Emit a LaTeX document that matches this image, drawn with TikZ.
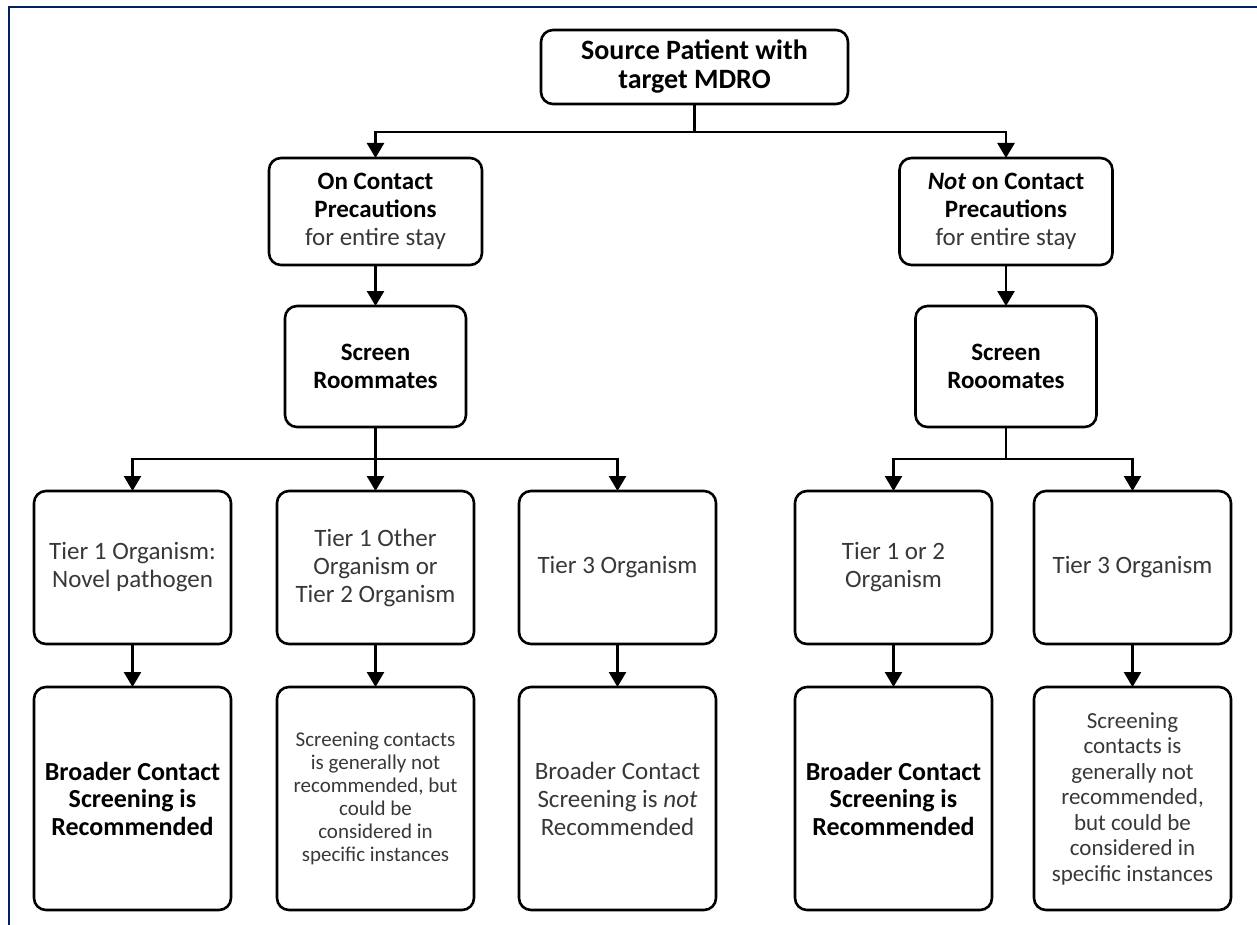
\documentclass[tikz,border=0pt]{standalone}
\usepackage{fontspec}
\setmainfont{Carlito}
\usetikzlibrary{positioning,arrows.meta}
\definecolor{framecol}{RGB}{0,32,96}
\tikzset{
  box/.style = {rectangle, draw, rounded corners=12pt, line width=2.6pt, align=center, inner sep=2pt, outer sep=0pt, text=black!78},
  srcbox/.style = {box, minimum width=307pt, minimum height=74pt},
  midbox/.style = {box, minimum width=213pt, minimum height=107pt},
  scrbox/.style = {box, minimum width=181pt, minimum height=121pt},
  tierbox/.style = {box, minimum width=197pt, minimum height=153pt},
  outbox/.style = {box, minimum width=197pt, minimum height=223pt},
  flow/.style = {line width=2.6pt, -{Triangle[length=15pt,width=17pt]}}
}
\newcommand{\hd}[1]{{\bfseries\color{black}#1}}

\begin{document}
\begin{tikzpicture}[
    every node/.style={font=\fontsize{25}{28}\selectfont},
    ]
\useasboundingbox (0,0) rectangle (1257pt,-925pt);
\draw[framecol, line width=2.5pt] (9pt,-925pt) -- (9pt,-7pt) -- (1257pt,-7pt);

\node [srcbox, font=\fontsize{28}{29}\selectfont] (src) at (694.5pt,-67pt) {\hd{Source Patient with}\\\hd{target MDRO}};
\node [midbox] (onc) at (375.5pt,-211.5pt) {\hd{On Contact}\\\hd{Precautions}\\for entire stay};
\node [midbox] (notc) at (1006pt,-211.5pt) {\hd{\textit{Not} on Contact}\\\hd{Precautions}\\for entire stay};
\node [scrbox, below = 41pt of onc] (scrl) {\hd{Screen}\\\hd{Roommates}};
\node [scrbox, below = 41pt of notc] (scrr) {\hd{Screen}\\\hd{Rooomates}};

\node [tierbox, below = 64pt of scrl] (t2) {Tier 1 Other\\Organism or\\Tier 2 Organism};
\node [tierbox, left = 46pt of t2] (t1) {Tier 1 Organism:\\Novel pathogen};
\node [tierbox, right = 45pt of t2] (t3) {Tier 3 Organism};
\node [tierbox, right = 79pt of t3] (t4) {Tier 1 or 2\\Organism};
\node [tierbox, right = 42pt of t4] (t5) {Tier 3 Organism};

\node [outbox, below = 43pt of t1, font=\fontsize{26}{27.5}\selectfont] (r1) {\hd{Broader Contact}\\\hd{Screening is}\\\hd{Recommended}};
\node [outbox, below = 43pt of t2, font=\fontsize{21}{23}\selectfont] (r2) {Screening contacts\\is generally not\\recommended, but\\could be\\considered in\\specific instances};
\node [outbox, below = 43pt of t3] (r3) {Broader Contact\\Screening is \textit{not}\\Recommended};
\node [outbox, below = 43pt of t4, font=\fontsize{26}{27.5}\selectfont] (r4) {\hd{Broader Contact}\\\hd{Screening is}\\\hd{Recommended}};
\node [outbox, below = 43pt of t5, font=\fontsize{23}{25.5}\selectfont] (r5) {Screening\\contacts is\\generally not\\recommended,\\but could be\\considered in\\specific instances};

\draw[flow] (src.south) -- ++(0,-28pt) -| (onc.north);
\draw[flow] (src.south) -- ++(0,-28pt) -| (notc.north);
\draw[flow] (onc.south) -- (scrl.north);
\draw[flow] (notc.south) -- (scrr.north);
\draw[flow] (scrl.south) -- ++(0,-32pt) -| (t1.north);
\draw[flow] (scrl.south) -- (t2.north);
\draw[flow] (scrl.south) -- ++(0,-32pt) -| (t3.north);
\draw[flow] (scrr.south) -- ++(0,-32pt) -| (t4.north);
\draw[flow] (scrr.south) -- ++(0,-32pt) -| (t5.north);
\foreach \i in {1,...,5}
  \draw[flow] (t\i.south) -- (r\i.north);

\end{tikzpicture}
\end{document}
